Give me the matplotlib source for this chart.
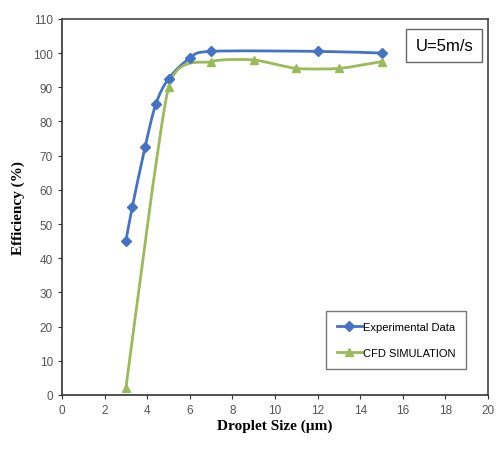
import matplotlib.pyplot as plt
import numpy as np
from matplotlib.patches import PathPatch
from matplotlib.path import Path

# --- DATA
exp_size = [3, 3.3, 3.9, 4.4, 5, 6, 7, 12, 15]
exp_eff = [45, 55, 72.5, 85, 92.5, 98.5, 100.5, 100.5, 100]

cfd_size = [3, 5, 7, 9, 11, 13, 15]
cfd_eff = [2, 90, 97.5, 98, 95.5, 95.5, 97.5]

x_ticks = list(range(0, 21, 2))
y_ticks = list(range(0, 111, 10))

BLUE = "#4472C4"
GREEN = "#9BBB59"


def smooth_path(xs, ys, tension=0.12):
    """Excel-like smoothed line as a cubic Bezier path through the points."""
    pts = np.column_stack([xs, ys]).astype(float)
    n = len(pts)
    verts = [pts[0]]
    codes = [Path.MOVETO]
    for i in range(n - 1):
        p0 = pts[i - 1] if i > 0 else pts[i]
        p1 = pts[i]
        p2 = pts[i + 1]
        p3 = pts[i + 2] if i + 2 < n else pts[i + 1]
        c1 = p1 + (p2 - p0) * tension
        c2 = p2 - (p3 - p1) * tension
        verts += [c1, c2, p2]
        codes += [Path.CURVE4] * 3
    return Path(verts, codes)


fig = plt.figure(figsize=(4.96, 4.52), dpi=100)
ax = fig.add_axes([0.125, 0.124, 0.859, 0.832])

ax.add_patch(PathPatch(smooth_path(exp_size, exp_eff, 0.15), facecolor="none", edgecolor=BLUE, lw=2, zorder=2))
ax.add_patch(PathPatch(smooth_path(cfd_size, cfd_eff, 0.1), facecolor="none", edgecolor=GREEN, lw=2, zorder=2))

ax.plot(exp_size, exp_eff, ls="none", marker="D", ms=5, color=BLUE, zorder=3)
ax.plot(cfd_size, cfd_eff, ls="none", marker="^", ms=6, color=GREEN, zorder=3)

# legend proxies
ax.plot([], [], color=BLUE, lw=2, marker="D", ms=5, label="Experimental Data")
ax.plot([], [], color=GREEN, lw=2, marker="^", ms=6, label="CFD SIMULATION")
leg = ax.legend(
    loc="lower right",
    bbox_to_anchor=(0.962, 0.055),
    frameon=True,
    fancybox=False,
    edgecolor="#555555",
    labelspacing=1.4,
    handlelength=2.2,
    handletextpad=0.1,
    borderpad=1.0,
    prop={"family": "Liberation Sans", "size": 8},
)
leg.get_frame().set_linewidth(1)

ax.text(
    0.965,
    0.95,
    "U=5m/s",
    transform=ax.transAxes,
    ha="right",
    va="top",
    fontsize=12,
    family="Liberation Sans",
    bbox=dict(boxstyle="square,pad=0.55", facecolor="white", edgecolor="#666666", lw=1),
)

ax.set_xlim(0, 20)
ax.set_ylim(0, 110)
ax.set_xticks(x_ticks)
ax.set_yticks(y_ticks)
ax.tick_params(labelsize=8.5, colors="#333333", length=3)
for lbl in ax.get_xticklabels() + ax.get_yticklabels():
    lbl.set_family("Liberation Sans")
    lbl.set_color("#555555")

ax.set_xlabel("Droplet Size (µm)", fontsize=11, fontweight="bold", family="Liberation Serif", labelpad=2)
ax.set_ylabel("Efficiency (%)", fontsize=11, fontweight="bold", family="Liberation Serif", labelpad=6)

for side in ["left", "bottom"]:
    ax.spines[side].set_color("#333333")
    ax.spines[side].set_linewidth(1.2)
for side in ["top", "right"]:
    ax.spines[side].set_color("#444444")
    ax.spines[side].set_linewidth(1.2)

fig.savefig("out.png", dpi=100)
